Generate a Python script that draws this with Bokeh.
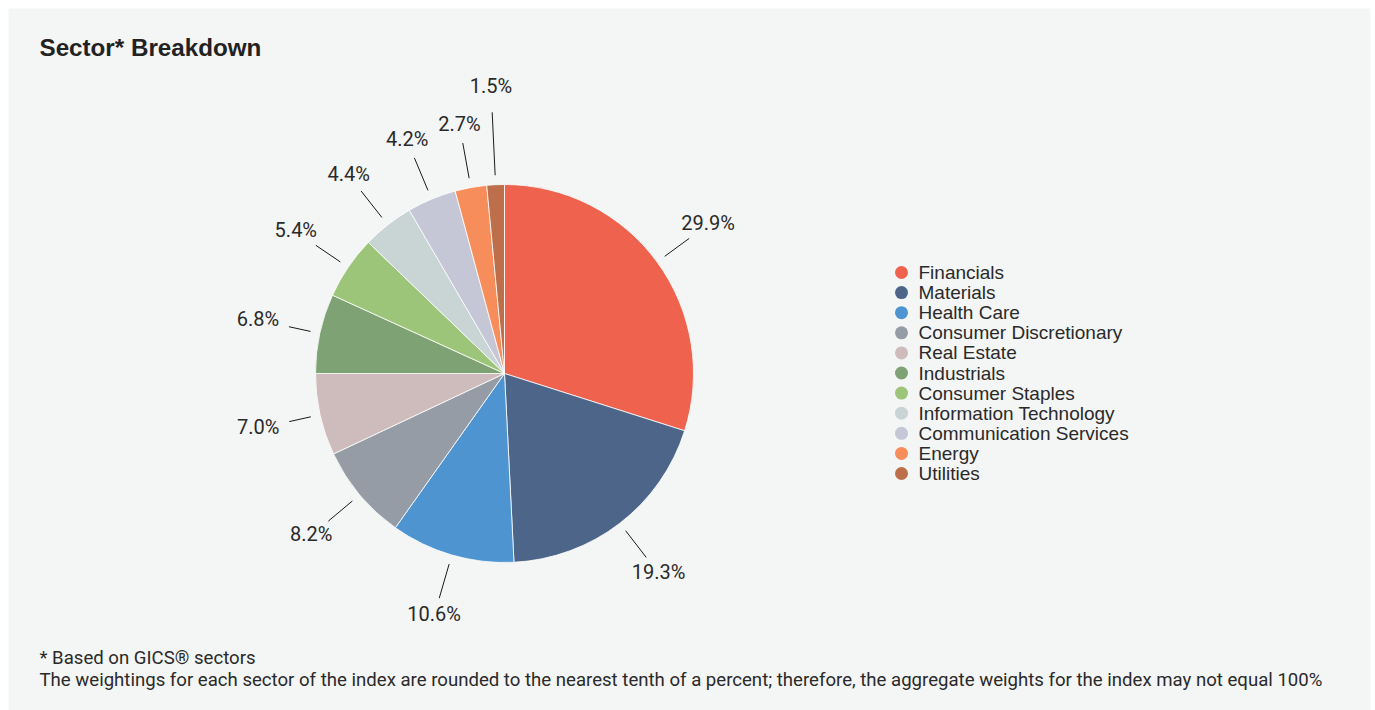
import math
from bokeh.plotting import figure
from bokeh.models import Range1d, ColumnDataSource
from bokeh.core.properties import value
from bokeh.embed import file_html
from bokeh.resources import INLINE

# ---------------- data ----------------
sectors = ["Financials", "Materials", "Health Care", "Consumer Discretionary",
           "Real Estate", "Industrials", "Consumer Staples",
           "Information Technology", "Communication Services", "Energy", "Utilities"]
weights = [29.9, 19.3, 10.6, 8.2, 7.0, 6.8, 5.4, 4.4, 4.2, 2.7, 1.5]
colors = ["#ef624e", "#4c6589", "#4e94d1", "#969ca6", "#cdbcbb", "#7fa274",
          "#9dc57a", "#c9d4d5", "#c5c6d6", "#f68d5b", "#bd6e4a"]
title_text = "Sector* Breakdown"
foot_lines = ["* Based on GICS\u00ae sectors",
              "The weightings for each sector of the index are rounded to the nearest tenth of a percent; therefore, the aggregate weights for the index may not equal 100%"]

# ---------------- layout ----------------
W, H = 1375, 710
BG = "#f4f5f5"
TXT = "#2a2a2a"


def px(x):
    return x


def py(y):
    return H - y


cx, cy, r = px(504), py(373), 189.0

p = figure(width=W, height=H, x_range=Range1d(0, W), y_range=Range1d(0, H),
           output_backend="svg", toolbar_location=None, min_border=0,
           background_fill_color="white", border_fill_color="white",
           outline_line_color=None)
p.axis.visible = False
p.grid.visible = False

# panel
p.quad(left=[px(8)], right=[px(1370)], top=[py(8)], bottom=[0],
       fill_color=BG, line_color=None)

total = sum(weights)
starts, ends, mids = [], [], []
acc = 0.0
for w in weights:
    s = acc / total
    acc += w
    e = acc / total
    starts.append(math.pi / 2 - 2 * math.pi * s)
    ends.append(math.pi / 2 - 2 * math.pi * e)
    mids.append(math.pi / 2 - 2 * math.pi * (s + e) / 2)

src = ColumnDataSource(dict(start=starts, end=ends, color=colors,
                            x=[cx] * len(weights), y=[cy] * len(weights)))
p.wedge(x="x", y="y", radius=r, start_angle="start", end_angle="end",
        direction="clock", fill_color="color", line_color="white",
        line_width=0.8, source=src)

# labels with simple outward collision avoidance
labels = [f"{w:.1f}%" for w in weights]
char_w, hh = 10.6, 8.0
placed = []
lx, ly, l0x, l0y, l1x, l1y = [], [], [], [], [], []
for lab, th in zip(labels, mids):
    dx, dy = math.cos(th), math.sin(th)
    hw = char_w * len(lab) / 2
    R = 1.335 * r
    pad = 20
    while True:
        x, y = cx + R * dx, cy + R * dy
        clash = any(abs(x - ox) < hw + ohw and abs(y - oy) < hh + ohh + pad
                    for ox, oy, ohw, ohh in placed)
        if not clash:
            break
        R += 2
    placed.append((x, y, hw, hh))
    lx.append(x)
    ly.append(y + 1.5)
    t = min(hw / abs(dx) if abs(dx) > 1e-9 else 1e9,
            hh / abs(dy) if abs(dy) > 1e-9 else 1e9)
    gap = 10 + (R - 1.335 * r) * 0.2
    r0 = 1.05 * r
    r1 = R - t - gap
    l0x.append(cx + r0 * dx)
    l0y.append(cy + r0 * dy)
    l1x.append(cx + r1 * dx)
    l1y.append(cy + r1 * dy)

p.segment(x0=l0x, y0=l0y, x1=l1x, y1=l1y, line_color="#1a1a1a", line_width=1)
p.text(x=lx, y=ly, text=labels, text_align="center", text_baseline="middle",
       text_font=value("Roboto"), text_font_size="20px", text_color=TXT)

# legend
n = len(sectors)
leg_y = [py(272 + i * 20.1) for i in range(n)]
p.scatter(x=[px(901)] * n, y=leg_y, size=13, marker="circle",
          fill_color=colors, line_color=None)
p.text(x=[px(918)] * n, y=leg_y, text=sectors, text_align="left",
       text_baseline="middle", text_font=value("Liberation Sans"),
       text_font_size="19px", text_color=TXT)

# title
p.text(x=[px(39)], y=[py(47)], text=[title_text], text_align="left",
       text_baseline="middle", text_font=value("Liberation Sans"),
       text_font_style="bold", text_font_size="24.2px", text_color="#222222")

# footnotes
p.text(x=[px(39)] * 2, y=[py(657), py(679)], text=foot_lines, text_align="left",
       text_baseline="middle", text_font=value("Roboto"),
       text_font_size="18.6px", text_color=TXT)

open("out.html", "w").write(file_html(p, INLINE))
